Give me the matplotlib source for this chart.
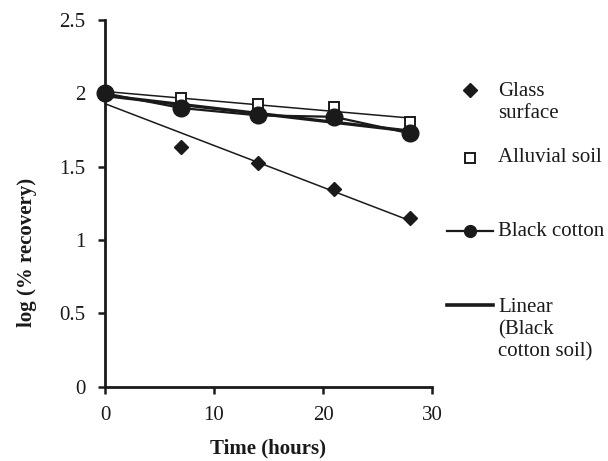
import numpy as np
import matplotlib.pyplot as plt
from matplotlib.lines import Line2D

# sampling times (hours) and log(% recovery) per surface
time_h = [0, 7, 14, 21, 28]
glass = [2.0, 1.636, 1.523, 1.345, 1.148]
alluvial = [2.0, 1.97, 1.93, 1.905, 1.806]
black_cotton = [2.0, 1.90, 1.85, 1.84, 1.727]

x_ticks = [0, 10, 20, 30]
y_ticks = [0, 0.5, 1, 1.5, 2, 2.5]
y_tick_labels = ['0', '0.5', '1', '1.5', '2', '2.5']

legend_labels = ['Glass\nsurface', 'Alluvial soil', 'Black cotton', 'Linear\n(Black\ncotton soil)']

plt.rcParams['font.family'] = ['Liberation Serif', 'DejaVu Serif']
FS = 15
INK = '#1a1a1a'

fig = plt.figure(figsize=(6.08, 4.61), dpi=100)
W, H = 608, 461
ax = fig.add_axes([105 / W, 1 - 386.7 / H, 327 / W, 366.7 / H])

t = np.array(time_h, dtype=float)

# excel-style linear trendlines
def trend(y):
    k, b = np.polyfit(t, y, 1)
    return k * t + b

ax.plot(t, trend(glass), color=INK, lw=1.1, zorder=2)
ax.plot(t, trend(alluvial), color=INK, lw=1.1, zorder=2)
ax.plot(t, trend(black_cotton), color=INK, lw=2.4, zorder=2)

ax.plot(t, glass, ls='none', marker='D', ms=7.5, color=INK, zorder=4, clip_on=False)
ax.plot(t, alluvial, ls='none', marker='s', ms=7, mfc='white', mec=INK, mew=1.4,
        zorder=3, clip_on=False)
ax.plot(t, black_cotton, '-', color=INK, lw=1.6, marker='o', ms=12, zorder=5, clip_on=False)

ax.set_xlim(0, 30)
ax.set_ylim(0, 2.5)
ax.set_xticks(x_ticks)
ax.set_yticks(y_ticks)
ax.set_yticklabels(y_tick_labels)
ax.tick_params(direction='out', length=5, width=1.8, labelsize=FS, pad=9, colors=INK)
for s in ['top', 'right']:
    ax.spines[s].set_visible(False)
for s in ['left', 'bottom']:
    ax.spines[s].set_linewidth(2)
    ax.spines[s].set_color(INK)

fig.text(268 / W, 1 - 448 / H, 'Time (hours)', ha='center', va='center',
         fontsize=FS, fontweight='bold', color=INK)
fig.text(27 / W, 1 - 252 / H, 'log (% recovery)', ha='center', va='center',
         rotation=90, fontsize=FS, fontweight='bold', color=INK)

# legend placed by hand to the right of the axes
mk_x = 470 / W
txt_x = 498 / W
entry_y = [102.5, 158, 231.5, 330]
handle_y = [90, 158, 231.5, 305]
for i, (lab, ey, hy) in enumerate(zip(legend_labels, entry_y, handle_y)):
    yy = 1 - hy / H
    if i == 0:
        fig.add_artist(Line2D([mk_x], [yy], transform=fig.transFigure,
                              marker='D', ms=7, ls='none', color=INK))
    elif i == 1:
        fig.add_artist(Line2D([mk_x], [yy], transform=fig.transFigure, marker='s', ms=7,
                              ls='none', mfc='white', mec=INK, mew=1.4))
    elif i == 2:
        fig.add_artist(Line2D([447 / W, 493 / W], [yy, yy], transform=fig.transFigure,
                              lw=1.6, color=INK))
        fig.add_artist(Line2D([mk_x], [yy], transform=fig.transFigure,
                              marker='o', ms=8.5, ls='none', color=INK))
    else:
        fig.add_artist(Line2D([447 / W, 493 / W], [yy, yy], transform=fig.transFigure,
                              lw=2.6, color=INK))
    fig.text(txt_x, 1 - ey / H, lab, ha='left', va='center', fontsize=FS,
             color=INK, linespacing=1.2)

fig.savefig('out.png', dpi=100)
